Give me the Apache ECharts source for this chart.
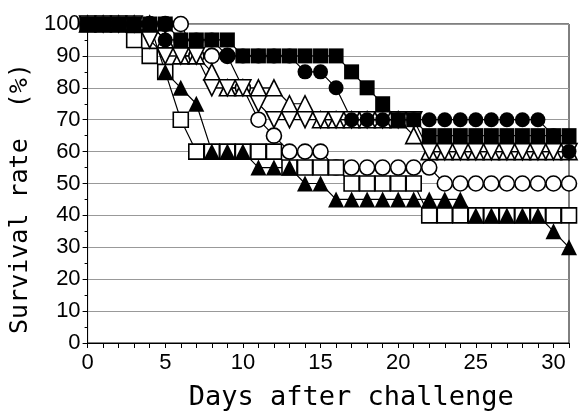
<!DOCTYPE html>
<html>
<head>
<meta charset="utf-8">
<script src="https://cdn.jsdelivr.net/npm/echarts@6/dist/echarts.min.js"></script>
<style>
    html, body { margin: 0; padding: 0; background: #fff; }
    #chart { width: 585px; height: 416px; }
</style>
</head>
<body>
<div id="chart"></div>
<script>
// days after challenge
const days = [0, 1, 2, 3, 4, 5, 6, 7, 8, 9, 10, 11, 12, 13, 14, 15,
    16, 17, 18, 19, 20, 21, 22, 23, 24, 25, 26, 27, 28, 29, 30, 31];
const xTickLabels = [0, 5, 10, 15, 20, 25, 30];

// survival rate (%) per group, one value per day
const filledCircle = [100, 100, 100, 100, 100, 95, 95, 95, 95, 90, 90, 90, 90, 90, 85, 85,
    80, 70, 70, 70, 70, 70, 70, 70, 70, 70, 70, 70, 70, 70, 65, 60];
const filledSquare = [100, 100, 100, 100, 100, 100, 95, 95, 95, 95, 90, 90, 90, 90, 90, 90,
    90, 85, 80, 75, 70, 70, 65, 65, 65, 65, 65, 65, 65, 65, 65, 65];
const openCircle = [100, 100, 100, 100, 100, 100, 100, 90, 90, 90, 80, 70, 65, 60, 60, 60,
    55, 55, 55, 55, 55, 55, 55, 50, 50, 50, 50, 50, 50, 50, 50, 50];
const openSquare = [100, 100, 100, 95, 90, 85, 70, 60, 60, 60, 60, 60, 60, 55, 55, 55,
    55, 50, 50, 50, 50, 50, 40, 40, 40, 40, 40, 40, 40, 40, 40, 40];
const triUp = [100, 100, 100, 100, 100, 95, 90, 90, 85, 80, 80, 80, 80, 75, 75, 70,
    70, 70, 70, 70, 70, 65, 60, 60, 60, 60, 60, 60, 60, 60, 60, 60];
const triDown = [100, 100, 100, 100, 95, 90, 90, 90, 80, 80, 80, 75, 70, 70, 70, 70,
    70, 70, 70, 70, 70, 70, 60, 60, 60, 60, 60, 60, 60, 60, 60, 60];
const filledTri = [100, 100, 100, 100, 100, 85, 80, 75, 60, 60, 60, 55, 55, 55, 50, 50,
    45, 45, 45, 45, 45, 45, 45, 45, 45, 40, 40, 40, 40, 40, 35, 30];

let chart = echarts.init(document.getElementById('chart'));

function pairs(values) {
    return days.map((d, i) => [d, values[i]]);
}

function makeSeries(values, symbol, size, filled, rotate) {
    return {
        type: 'line',
        data: pairs(values),
        symbol: symbol,
        symbolSize: size,
        symbolRotate: rotate || 0,
        showAllSymbol: true,
        animation: false,
        lineStyle: { color: '#000', width: 1.2 },
        itemStyle: {
            color: filled ? '#000' : '#fff',
            borderColor: '#000',
            borderWidth: filled ? 0 : 1.6
        }
    };
}

let labelFont = "'Liberation Sans Narrow', 'Liberation Sans', sans-serif";
let titleFont = "'DejaVu Sans Mono', monospace";

let option = {
    backgroundColor: '#fff',
    grid: {
        left: 85,
        right: 16,
        top: 24,
        bottom: 64,
        show: true,
        borderColor: '#000',
        borderWidth: 1
    },
    xAxis: {
        type: 'value',
        min: 0,
        max: 31,
        interval: 1,
        name: 'Days after challenge',
        nameLocation: 'middle',
        nameGap: 41,
        nameTextStyle: { fontFamily: titleFont, fontSize: 27, color: '#000', padding: [0, 0, 0, 46] },
        axisLine: { show: true, lineStyle: { color: '#000', width: 1 } },
        axisTick: { show: true, length: 5, lineStyle: { color: '#000' } },
        splitLine: { show: false },
        axisLabel: {
            fontFamily: labelFont,
            fontSize: 22,
            color: '#000',
            margin: 9,
            formatter: v => xTickLabels.includes(v) ? String(v) : ''
        }
    },
    yAxis: {
        type: 'value',
        min: 0,
        max: 100,
        interval: 10,
        name: 'Survival rate  (%)',
        nameLocation: 'middle',
        nameGap: 50,
        nameTextStyle: { fontFamily: titleFont, fontSize: 25, color: '#000', padding: [0, 30, 0, 0] },
        axisLine: { show: true, lineStyle: { color: '#000', width: 1 } },
        axisTick: { show: true, length: 5, lineStyle: { color: '#000' } },
        minorTick: { show: true, splitNumber: 2, length: 3, lineStyle: { color: '#000' } },
        splitLine: { show: true, lineStyle: { color: '#999', width: 1 } },
        axisLabel: { fontFamily: labelFont, fontSize: 22, color: '#000', margin: 7 }
    },
    series: [
        makeSeries(openCircle, 'circle', 15, false),
        makeSeries(openSquare, 'rect', 15, false),
        makeSeries(triUp, 'triangle', 16, false),
        makeSeries(triDown, 'triangle', 16, false, 180),
        makeSeries(filledCircle, 'circle', 15, true),
        makeSeries(filledSquare, 'rect', 15, true),
        makeSeries(filledTri, 'triangle', 16, true)
    ]
};

chart.setOption(option);
</script>
</body>
</html>
